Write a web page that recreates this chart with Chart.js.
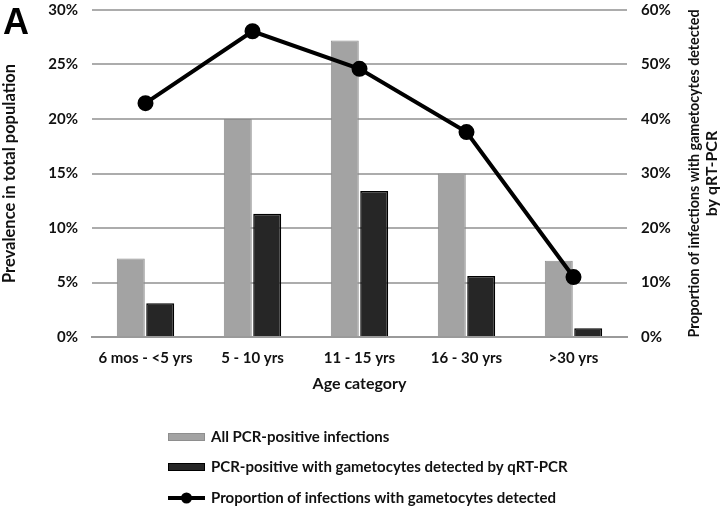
<!DOCTYPE html>
<html>
<head>
<meta charset="utf-8">
<script src="https://cdn.jsdelivr.net/npm/chart.js@4"></script>
<style>
html,body{margin:0;padding:0;background:#fff;}
#wrap{width:725px;height:514px;position:relative;}
</style>
</head>
<body>
<div id="wrap"><canvas id="c" width="725" height="514"></canvas></div>
<script>
const categories = ['6 mos - <5 yrs', '5 - 10 yrs', '11 - 15 yrs', '16 - 30 yrs', '>30 yrs'];
const allPositive = [7.2, 20.0, 27.2, 15.0, 7.0];
const gametocytePositive = [3.1, 11.3, 13.4, 5.6, 0.8];
const proportionDetected = [42.9, 56.1, 49.2, 37.6, 11.0];
const leftTicks = [0, 5, 10, 15, 20, 25, 30];
const rightTicks = [0, 10, 20, 30, 40, 50, 60];
const seriesNames = ['All PCR-positive infections', 'PCR-positive with gametocytes detected by qRT-PCR', 'Proportion of infections with gametocytes detected'];
const rightTitle = ['Proportion of infections with gametocytes detected', 'by qRT-PCR'];

const FONT = 'Lato, "Open Sans", sans-serif';

const extras = {
  id: 'extras',
  afterDraw(chart) {
    const ctx = chart.ctx;
    const area = chart.chartArea;
    ctx.save();
    // Panel letter
    ctx.fillStyle = '#000';
    ctx.font = '900 36px "Liberation Sans", Lato, sans-serif';
    ctx.textBaseline = 'top';
    ctx.textAlign = 'left';
    ctx.fillText('A', 3, 6);
    // Right axis title, reading bottom-to-top
    const cy = (area.top + area.bottom) / 2;
    ctx.font = 'bold 16px ' + FONT;
    ctx.textAlign = 'center';
    ctx.textBaseline = 'middle';
    ctx.fillStyle = '#111';
    const xs = [694, 712];
    rightTitle.forEach((t, i) => {
      ctx.save();
      ctx.translate(xs[i], cy);
      ctx.rotate(-Math.PI / 2);
      ctx.fillText(t, 0, 0, 328);
      ctx.restore();
    });
    // Legend
    const x0 = 168, bw = 37;
    const ys = [437, 467, 498];
    ctx.font = 'bold 15px ' + FONT;
    ctx.textAlign = 'left';
    ctx.textBaseline = 'middle';
    chart.data.datasets.forEach((ds, i) => {
      const y = ys[i];
      if (ds.type === 'line') {
        ctx.strokeStyle = ds.borderColor;
        ctx.lineWidth = 4;
        ctx.beginPath();
        ctx.moveTo(x0, y); ctx.lineTo(x0 + bw, y); ctx.stroke();
        ctx.fillStyle = ds.pointBackgroundColor;
        ctx.beginPath(); ctx.arc(x0 + bw / 2, y, 5.5, 0, Math.PI * 2); ctx.fill();
      } else {
        ctx.fillStyle = ds.backgroundColor;
        ctx.strokeStyle = ds.borderColor;
        ctx.lineWidth = 1;
        ctx.fillRect(x0, y - 4, bw, 8);
        ctx.strokeRect(x0 + 0.5, y - 3.5, bw - 1, 7);
      }
      ctx.fillStyle = '#111';
      ctx.fillText(ds.label, x0 + bw + 6, y);
    });
    ctx.restore();
  }
};

new Chart(document.getElementById('c'), {
  data: {
    labels: categories,
    datasets: [
      { type: 'bar', label: seriesNames[0], data: allPositive, yAxisID: 'y',
        backgroundColor: '#a3a3a3', borderColor: '#8e8e8e', borderWidth: 1,
        categoryPercentage: 0.55, barPercentage: 0.95, order: 1 },
      { type: 'bar', label: seriesNames[1], data: gametocytePositive, yAxisID: 'y',
        backgroundColor: '#262626', borderColor: '#000', borderWidth: 1.5,
        categoryPercentage: 0.55, barPercentage: 0.95, order: 1 },
      { type: 'line', label: seriesNames[2], data: proportionDetected, yAxisID: 'y1',
        borderColor: '#000', borderWidth: 4, pointBackgroundColor: '#000',
        pointBorderColor: '#000', pointRadius: 6, tension: 0, order: 0 }
    ]
  },
  options: {
    responsive: false,
    animation: false,
    layout: { padding: { top: 10, bottom: 117, left: 0, right: 0 } },
    plugins: { legend: { display: false }, tooltip: { enabled: false } },
    scales: {
      x: {
        grid: { display: false, drawTicks: false },
        border: { display: true, color: '#9a9a9a', width: 2 },
        ticks: { color: '#111', font: { family: FONT, size: 15, weight: 'bold' }, padding: 12, maxRotation: 0 },
        title: { display: true, text: 'Age category', color: '#111', font: { family: FONT, size: 16, weight: 'bold' }, padding: { top: 6 } },
        afterFit(s) { s.height = 60; s.paddingLeft = 0; s.paddingRight = 0; }
      },
      y: {
        position: 'left', min: 0, max: 30,
        afterBuildTicks(s) { s.ticks = leftTicks.map(v => ({ value: v })); },
        grid: { color: '#acacac', lineWidth: 2, drawTicks: false },
        border: { display: false },
        ticks: { color: '#111', font: { family: FONT, size: 15, weight: 'bold' }, padding: 14, callback: v => v + '%' },
        title: { display: true, text: 'Prevalence in total population', color: '#111', font: { family: FONT, size: 16.5, weight: 'bold' }, padding: 0 },
        afterFit(s) { s.width = 92; s.paddingTop = 0; s.paddingBottom = 0; }
      },
      y1: {
        position: 'right', min: 0, max: 60,
        afterBuildTicks(s) { s.ticks = rightTicks.map(v => ({ value: v })); },
        grid: { display: false, drawTicks: false },
        border: { display: false },
        ticks: { color: '#111', font: { family: FONT, size: 15, weight: 'bold' }, padding: 14, callback: v => v + '%' },
        title: { display: false },
        afterFit(s) { s.width = 98; s.paddingTop = 0; s.paddingBottom = 0; }
      }
    }
  },
  plugins: [extras]
});
</script>
</body>
</html>
